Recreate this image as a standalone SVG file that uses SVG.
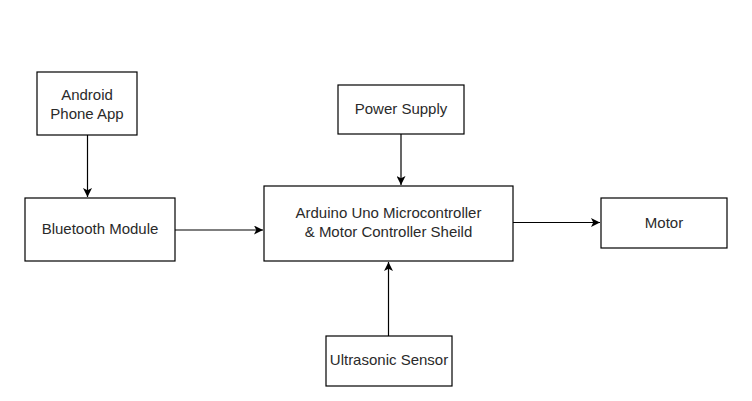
<svg xmlns="http://www.w3.org/2000/svg" width="752" height="401" viewBox="0 0 752 401">
<defs>
<marker id="arr" viewBox="0 0 10 10" refX="10" refY="5" markerWidth="9" markerHeight="9" markerUnits="userSpaceOnUse" orient="auto">
<path d="M0,0 L10,5 L0,10 L2.5,5 Z" fill="#000"/>
</marker>
<style>
.box{fill:#fff;stroke:#000;stroke-width:1.2}
.t{font-family:"Liberation Sans",Arial,sans-serif;font-size:15px;fill:#2a2a2a;text-anchor:middle}
.c{stroke:#000;stroke-width:1.2;fill:none;marker-end:url(#arr)}
</style>
</defs>
<rect width="752" height="401" fill="#fff"/>
<g id="connectors">
<line class="c" x1="87.5" y1="135" x2="87.5" y2="197"/>
<line class="c" x1="175" y1="230" x2="263" y2="230"/>
<line class="c" x1="401" y1="134" x2="401" y2="185"/>
<line class="c" x1="513" y1="222.5" x2="600" y2="222.5"/>
<line class="c" x1="388.5" y1="336" x2="388.5" y2="262"/>
</g>
<g id="android">
<rect class="box" x="37" y="72" width="100" height="63"/>
<text class="t" x="87" y="100">Android</text>
<text class="t" x="87" y="119">Phone App</text>
</g>
<g id="bluetooth">
<rect class="box" x="25" y="198" width="150" height="63"/>
<text class="t" x="100" y="234">Bluetooth Module</text>
</g>
<g id="power">
<rect class="box" x="338" y="85" width="126" height="49"/>
<text class="t" x="401" y="114">Power Supply</text>
</g>
<g id="arduino">
<rect class="box" x="264" y="186" width="249" height="75"/>
<text class="t" x="388.5" y="218">Arduino Uno Microcontroller</text>
<text class="t" x="388.5" y="237">&amp; Motor Controller Sheild</text>
</g>
<g id="motor">
<rect class="box" x="601" y="198" width="126" height="50"/>
<text class="t" x="664" y="228">Motor</text>
</g>
<g id="ultrasonic">
<rect class="box" x="326" y="336" width="126" height="50"/>
<text class="t" x="389" y="365">Ultrasonic Sensor</text>
</g>
</svg>
